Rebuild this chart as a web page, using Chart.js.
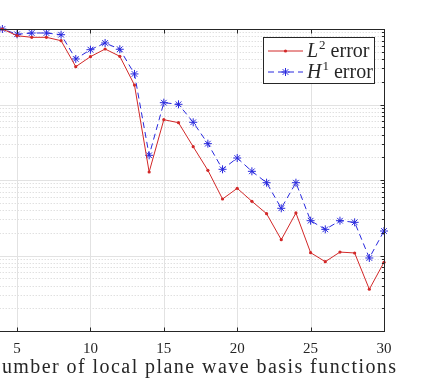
<!DOCTYPE html>
<html>
<head>
<meta charset="utf-8">
<script src="https://cdn.jsdelivr.net/npm/chart.js@4/dist/chart.umd.min.js"></script>
<style>
  html, body { margin: 0; padding: 0; background: #fff; overflow: hidden; }
  #wrap { position: absolute; left: -40px; top: 0; width: 474px; height: 386px; }
</style>
</head>
<body>
<div id="wrap"><canvas id="c" width="474" height="386"></canvas></div>
<script>
// Number of local plane wave basis functions
const nBasis = [3,4,5,6,7,8,9,10,11,12,13,14,15,16,17,18,19,20,21,22,23,24,25,26,27,28,29,30];
// L2 error
const l2Error = [1.0,1.0,0.815,0.776,0.776,0.700,0.317,0.430,0.543,0.435,0.181,0.01276,0.0629,0.0574,0.0276,0.01345,0.00560,0.00776,0.00522,0.00358,0.00162,0.00366,0.00109,0.000828,0.00111,0.00108,0.000357,0.000813];
// H1 error
const h1Error = [1.0,1.0,0.851,0.885,0.885,0.840,0.401,0.532,0.653,0.539,0.254,0.02124,0.1057,0.1006,0.0581,0.0303,0.01386,0.01955,0.01303,0.00921,0.00422,0.00921,0.00289,0.00222,0.00289,0.00275,0.000927,0.00211];
const xTicks = [5,10,15,20,25,30];
const xRange = [3, 30];
const yRange = [1e-4, 1];
const seriesLabels = ['L|2| error', 'H|1| error'];
const xTitle = 'Number of local plane wave basis functions';

const AX = '#262626';
const RED = 'rgb(210,40,40)';
const BLUE = 'rgb(40,40,222)';
const SERIF = 'Liberation Serif';
const OFF = 40;

const gridPlugin = {
  id: 'mgrid',
  beforeDatasetsDraw(chart) {
    const {ctx, chartArea: a, scales: {x, y}} = chart;
    ctx.save();
    ctx.beginPath(); ctx.rect(a.left, a.top, a.right - a.left, a.bottom - a.top); ctx.clip();
    ctx.strokeStyle = '#d2d2d2'; ctx.lineWidth = 1; ctx.setLineDash([1, 2]);
    for (let d = Math.log10(yRange[0]); d < Math.log10(yRange[1]); d++) {
      for (let k = 2; k <= 9; k++) {
        const py = Math.round(y.getPixelForValue(k * Math.pow(10, d))) + 0.5;
        ctx.beginPath(); ctx.moveTo(a.left, py); ctx.lineTo(a.right, py); ctx.stroke();
      }
    }
    ctx.setLineDash([]);
    ctx.strokeStyle = '#e2e2e2';
    for (let d = Math.log10(yRange[0]); d <= Math.log10(yRange[1]); d++) {
      const py = Math.round(y.getPixelForValue(Math.pow(10, d))) + 0.5;
      ctx.beginPath(); ctx.moveTo(a.left, py); ctx.lineTo(a.right, py); ctx.stroke();
    }
    xTicks.forEach(v => {
      const px = Math.round(x.getPixelForValue(v)) + 0.5;
      ctx.beginPath(); ctx.moveTo(px, a.top); ctx.lineTo(px, a.bottom); ctx.stroke();
    });
    ctx.restore();
  },
  afterDatasetsDraw(chart) {
    const {ctx, chartArea: a, scales: {x, y}} = chart;
    ctx.save();
    ctx.strokeStyle = AX; ctx.lineWidth = 1;
    const L = Math.round(a.left) + 0.5, R = Math.round(a.right) + 0.5;
    const T = Math.round(a.top) + 0.5, B = Math.round(a.bottom) + 0.5;
    ctx.strokeRect(L, T, R - L, B - T);
    ctx.beginPath();
    xTicks.forEach(v => {
      const px = Math.round(x.getPixelForValue(v)) + 0.5;
      ctx.moveTo(px, B); ctx.lineTo(px, B - 4);
      ctx.moveTo(px, T); ctx.lineTo(px, T + 4);
    });
    for (let d = Math.log10(yRange[0]); d <= Math.log10(yRange[1]); d++) {
      for (let k = 1; k <= 9; k++) {
        const v = k * Math.pow(10, d);
        if (v > yRange[1] * 1.0001) continue;
        const py = Math.round(y.getPixelForValue(v)) + 0.5;
        const len = k === 1 ? 4 : 2.5;
        ctx.moveTo(R, py); ctx.lineTo(R - len, py);
        ctx.moveTo(L, py); ctx.lineTo(L + len, py);
      }
    }
    ctx.stroke();
    ctx.restore();
  },
  afterDraw(chart) {
    const {ctx} = chart;
    // x-axis title
    ctx.save();
    ctx.font = '20px ' + SERIF;
    ctx.fillStyle = AX; ctx.textBaseline = 'alphabetic'; ctx.textAlign = 'left';
    const w0 = ctx.measureText(xTitle).width;
    const target = 410;
    ctx.letterSpacing = ((target - w0) / (xTitle.length - 1)).toFixed(2) + 'px';
    ctx.fillText(xTitle, -14 + OFF, 373);
    ctx.restore();

    const bx = 263 + OFF, by = 37, bw = 111, bh = 46;
    ctx.save();
    ctx.fillStyle = '#fff'; ctx.fillRect(bx, by, bw, bh);
    ctx.strokeStyle = AX; ctx.lineWidth = 1;
    ctx.strokeRect(bx + 0.5, by + 0.5, bw, bh);
    const rows = [
      {label: seriesLabels[0], color: RED, dash: [], star: false, y: by + 14},
      {label: seriesLabels[1], color: BLUE, dash: [6, 4], star: true, y: by + 35},
    ];
    rows.forEach(r => {
      ctx.strokeStyle = r.color; ctx.fillStyle = r.color; ctx.lineWidth = 1;
      ctx.setLineDash(r.dash);
      ctx.beginPath(); ctx.moveTo(bx + 5, r.y); ctx.lineTo(bx + 40, r.y); ctx.stroke();
      ctx.setLineDash([]);
      const mx = bx + 22.5;
      if (r.star) {
        const s = 4;
        ctx.beginPath();
        ctx.moveTo(mx - s, r.y); ctx.lineTo(mx + s, r.y);
        ctx.moveTo(mx, r.y - s); ctx.lineTo(mx, r.y + s);
        const d = s * 0.707;
        ctx.moveTo(mx - d, r.y - d); ctx.lineTo(mx + d, r.y + d);
        ctx.moveTo(mx - d, r.y + d); ctx.lineTo(mx + d, r.y - d);
        ctx.stroke();
      } else {
        ctx.beginPath(); ctx.arc(mx, r.y, 1.6, 0, Math.PI * 2); ctx.fill();
      }
      const parts = r.label.split('|');
      ctx.fillStyle = AX; ctx.textBaseline = 'alphabetic'; ctx.textAlign = 'left';
      let tx = bx + 44;
      const base = r.y + 5.5;
      ctx.font = 'italic 20px ' + SERIF;
      ctx.fillText(parts[0], tx, base); tx += ctx.measureText(parts[0]).width + 1;
      ctx.font = '13px ' + SERIF;
      ctx.fillText(parts[1], tx, base - 8); tx += ctx.measureText(parts[1]).width;
      ctx.font = '20px ' + SERIF;
      ctx.fillText(parts[2], tx, base);
    });
    ctx.restore();
  }
};

new Chart(document.getElementById('c'), {
  type: 'line',
  data: {
    datasets: [
      {
        label: 'L2 error',
        data: nBasis.map((n, i) => ({x: n, y: l2Error[i]})),
        borderColor: RED, backgroundColor: RED, borderWidth: 1,
        pointStyle: 'circle', pointRadius: 1.6, pointBorderWidth: 0,
        tension: 0, clip: false
      },
      {
        label: 'H1 error',
        data: nBasis.map((n, i) => ({x: n, y: h1Error[i]})),
        borderColor: BLUE, backgroundColor: BLUE, borderWidth: 1, borderDash: [6, 4],
        pointStyle: 'star', pointRadius: 4, pointBorderWidth: 1,
        tension: 0, clip: false
      }
    ]
  },
  options: {
    responsive: false, animation: false, devicePixelRatio: 1,
    layout: {padding: {left: 27.7, right: 50, top: 29, bottom: 0}},
    plugins: {legend: {display: false}, tooltip: {enabled: false}},
    scales: {
      x: {
        type: 'linear', min: xRange[0], max: xRange[1],
        afterFit: s => { s.height = 55; },
        grid: {display: false, drawTicks: false},
        border: {display: false},
        ticks: {
          stepSize: 5, color: AX, font: {family: SERIF, size: 15}, padding: 9,
          maxRotation: 0, autoSkip: false,
          callback: v => xTicks.includes(v) ? String(v) : ''
        },
        title: {display: false, text: xTitle}
      },
      y: {
        type: 'logarithmic', min: yRange[0], max: yRange[1], display: false
      }
    }
  },
  plugins: [gridPlugin]
});
</script>
</body>
</html>
